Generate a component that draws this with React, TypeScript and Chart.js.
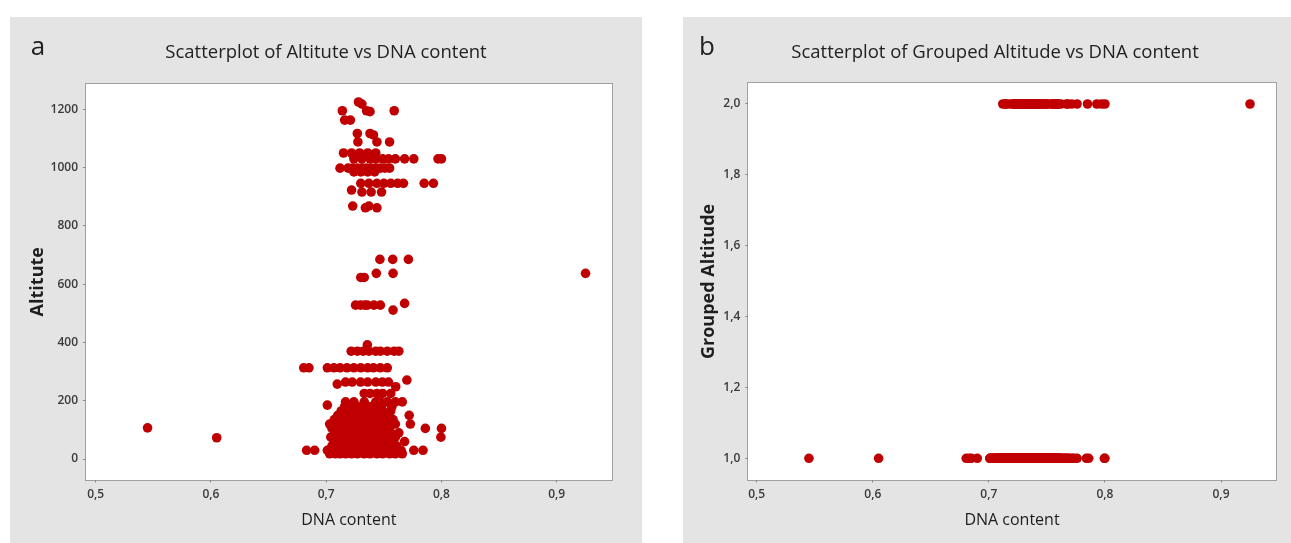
import React, { useEffect, useRef } from 'react';
import { Chart, registerables } from 'chart.js';

Chart.register(...registerables);

const FONT = "'Open Sans', 'Noto Sans', sans-serif";

// ---- Data: rows of [altitude, DNA content values measured at that altitude] ----
const highAltitudeRows: [number, number[]][] = [
  [1225, [0.728]],
  [1218, [0.731]],
  [1195, [0.714, 0.735, 0.759]],
  [1192, [0.738]],
  [1163, [0.716, 0.721]],
  [1117, [0.727, 0.738]],
  [1112, [0.741]],
  [1088, [0.7275, 0.744, 0.755]],
  [1050, [0.715, 0.722, 0.729, 0.736, 0.743]],
  [1030, [0.724, 0.731, 0.738, 0.743, 0.749, 0.754, 0.76, 0.768, 0.776, 0.797, 0.8]],
  [998, [0.712, 0.719, 0.723, 0.727, 0.731, 0.735, 0.739, 0.743, 0.747, 0.751, 0.755]],
  [985, [0.724, 0.73, 0.736, 0.742]],
  [946, [0.73, 0.737, 0.744, 0.75, 0.756, 0.762, 0.767, 0.785, 0.793]],
  [923, [0.722]],
  [916, [0.731, 0.739, 0.748]],
  [868, [0.723, 0.737]],
  [862, [0.734, 0.744]],
];

const midAltitudeRows: [number, number[]][] = [
  [685, [0.7466, 0.7577, 0.7713]],
  [637, [0.7435, 0.758, 0.925]],
  [623, [0.73, 0.733]],
  [534, [0.768]],
  [528, [0.7255, 0.7298, 0.7335, 0.7357, 0.7414, 0.747]],
  [511, [0.758]],
];

const lowAltitudeRows: [number, number[]][] = [
  [392, [0.7357]],
  [370, [0.7217, 0.727, 0.732, 0.737, 0.743, 0.747, 0.753, 0.759, 0.763]],
  [313, [0.6805, 0.685, 0.701, 0.7067, 0.712, 0.718, 0.724, 0.73, 0.736, 0.741, 0.747, 0.753]],
  [271, [0.77]],
  [264, [0.7168, 0.7226, 0.7298, 0.736, 0.743, 0.7487, 0.754]],
  [257, [0.7096]],
  [248, [0.7603]],
  [225, [0.733, 0.738, 0.744, 0.749, 0.756]],
  [196, [0.7168, 0.724, 0.733, 0.743, 0.747, 0.753, 0.76, 0.766]],
  [185, [0.701]],
  [180, [0.716, 0.722, 0.727, 0.733, 0.738, 0.743, 0.748, 0.757]],
  [165, [0.713, 0.719, 0.724, 0.729, 0.734, 0.739, 0.744, 0.749, 0.756]],
  [150, [0.71, 0.715, 0.72, 0.726, 0.731, 0.736, 0.741, 0.746, 0.752, 0.772]],
  [135, [0.707, 0.712, 0.717, 0.722, 0.727, 0.732, 0.737, 0.742, 0.747, 0.752, 0.758]],
  [120, [0.703, 0.709, 0.714, 0.719, 0.724, 0.729, 0.734, 0.739, 0.744, 0.749, 0.754, 0.76, 0.773]],
  [107, [0.545]],
  [105, [0.705, 0.71, 0.716, 0.721, 0.726, 0.731, 0.735, 0.74, 0.745, 0.75, 0.755, 0.786, 0.8]],
  [90, [0.708, 0.713, 0.718, 0.723, 0.727, 0.732, 0.736, 0.741, 0.746, 0.751, 0.756, 0.763]],
  [75, [0.704, 0.709, 0.714, 0.72, 0.725, 0.729, 0.734, 0.739, 0.744, 0.749, 0.754, 0.76, 0.7995]],
  [73, [0.605]],
  [60, [0.707, 0.712, 0.718, 0.723, 0.728, 0.733, 0.737, 0.742, 0.747, 0.752, 0.757, 0.768]],
  [45, [0.705, 0.71, 0.715, 0.721, 0.726, 0.73, 0.735, 0.74, 0.745, 0.75, 0.755, 0.761]],
  [30, [0.683, 0.69, 0.701, 0.706, 0.711, 0.716, 0.72, 0.725, 0.731, 0.736, 0.741, 0.746, 0.751, 0.757, 0.762, 0.765, 0.776, 0.784]],
  [18, [0.703, 0.708, 0.712, 0.717, 0.722, 0.727, 0.733, 0.738, 0.744, 0.749, 0.755, 0.76, 0.766]],
];

// Altitude at or above which a site is in group 2
const groupThreshold = 600;

const dnaTicks = [0.5, 0.6, 0.7, 0.8, 0.9];
const altitudeTicks = [0, 200, 400, 600, 800, 1000, 1200];
const groupedTicks = [1.0, 1.2, 1.4, 1.6, 1.8, 2.0];

const allRows = [...highAltitudeRows, ...midAltitudeRows, ...lowAltitudeRows];
const altitudePoints = allRows.flatMap(([alt, dnas]) => dnas.map((d) => ({ x: d, y: alt })));
const groupedPoints = altitudePoints.map((p) => ({ x: p.x, y: p.y >= groupThreshold ? 2 : 1 }));

const DOT = '#c00000';
const PANEL_BG = '#e4e4e4';

const fmtComma = (v: any) => Number(v).toFixed(1).replace('.', ',');

const decor = {
  id: 'decor',
  beforeDraw(chart: any) {
    const { ctx, chartArea: ca } = chart;
    ctx.save();
    ctx.fillStyle = PANEL_BG;
    ctx.fillRect(0, 0, chart.width, chart.height);
    const l = Math.round(ca.left), t = Math.round(ca.top), r = Math.round(ca.right), b = Math.round(ca.bottom);
    ctx.fillStyle = '#ffffff';
    ctx.fillRect(l, t, r - l, b - t);
    ctx.strokeStyle = '#a0a0a0';
    ctx.lineWidth = 1;
    ctx.strokeRect(l - 0.5, t - 0.5, r - l + 1, b - t + 1);
    ctx.restore();
  },
  afterDraw(chart: any, _a: any, opts: any) {
    const { ctx } = chart;
    ctx.save();
    ctx.font = `26px ${FONT}`;
    ctx.fillStyle = '#222222';
    ctx.textAlign = 'center';
    ctx.textBaseline = 'middle';
    ctx.fillText(opts.letter, opts.x, opts.y);
    ctx.restore();
  },
};

function buildConfig(p: {
  points: { x: number; y: number }[];
  title: string;
  yTitle: string;
  yTicks: number[];
  yFmt: (v: any) => string;
  xMin: number; xMax: number; yMin: number; yMax: number;
  yWidth: number; rightWidth: number; titlePadTop: number; titlePadBottom: number;
  yTitlePad: number; letter: string; letterX: number; letterY: number;
}): any {
  const tickFont = { family: FONT, size: 12, weight: '600' };
  return {
    type: 'scatter',
    data: {
      datasets: [
        {
          data: p.points,
          backgroundColor: DOT,
          borderColor: DOT,
          borderWidth: 0,
          pointRadius: 4.8,
          pointHoverRadius: 4.8,
        },
      ],
    },
    options: {
      animation: false,
      responsive: false,
      devicePixelRatio: 1,
      layout: { padding: 0 },
      plugins: {
        legend: { display: false },
        tooltip: { enabled: false },
        title: {
          display: true,
          text: p.title,
          color: '#222222',
          font: { family: FONT, size: 18.5, weight: 'normal' },
          padding: { top: p.titlePadTop, bottom: p.titlePadBottom },
        },
        decor: { letter: p.letter, x: p.letterX, y: p.letterY },
      },
      scales: {
        x: {
          type: 'linear',
          position: 'bottom',
          min: p.xMin,
          max: p.xMax,
          afterBuildTicks: (s: any) => { s.ticks = dnaTicks.map((v) => ({ value: v })); },
          afterFit: (s: any) => { s.height = 63.5; },
          grid: { display: true, drawOnChartArea: false, drawTicks: true, tickLength: 3, tickColor: '#8c8c8c' },
          border: { display: false },
          ticks: { padding: 5, color: '#3a3a3a', font: tickFont, maxRotation: 0, autoSkip: false, callback: fmtComma },
          title: { display: true, text: 'DNA content', color: '#1e1e1e', font: { family: FONT, size: 16 }, padding: { top: 0, bottom: 13.4 } },
        },
        y: {
          type: 'linear',
          position: 'left',
          min: p.yMin,
          max: p.yMax,
          afterBuildTicks: (s: any) => { s.ticks = p.yTicks.map((v) => ({ value: v })); },
          afterFit: (s: any) => { s.width = p.yWidth; },
          grid: { display: true, drawOnChartArea: false, drawTicks: true, tickLength: 3, tickColor: '#8c8c8c' },
          border: { display: false },
          ticks: { padding: 5, color: '#3a3a3a', font: tickFont, autoSkip: false, callback: p.yFmt },
          title: { display: true, text: p.yTitle, color: '#1e1e1e', font: { family: FONT, size: 18, weight: 'bold' }, padding: { top: p.yTitlePad, bottom: 0 } },
        },
        yRight: {
          type: 'linear',
          position: 'right',
          display: true,
          grid: { display: false },
          border: { display: false },
          ticks: { display: false },
          afterFit: (s: any) => { s.width = p.rightWidth; },
        },
      },
    },
    plugins: [decor],
  };
}

function Panel({ left, top, width, height, config }: { left: number; top: number; width: number; height: number; config: () => any }) {
  const ref = useRef<HTMLCanvasElement>(null);
  useEffect(() => {
    const chart = new Chart(ref.current as HTMLCanvasElement, config());
    return () => chart.destroy();
  }, []);
  return (
    <canvas
      ref={ref}
      width={width}
      height={height}
      style={{ position: 'absolute', left, top, width, height, display: 'block' }}
    />
  );
}

export default function App() {
  const configA = () =>
    buildConfig({
      points: altitudePoints,
      title: 'Scatterplot of Altitute vs DNA content',
      yTitle: 'Altitute',
      yTicks: altitudeTicks,
      yFmt: (v: any) => String(v),
      xMin: 0.4916, xMax: 0.9477, yMin: -70.3, yMax: 1286.8,
      yWidth: 76, rightWidth: 30.3, titlePadTop: 24.9, titlePadBottom: 19.9,
      yTitlePad: 17.2, letter: 'a', letterX: 28, letterY: 31,
    });
  const configB = () =>
    buildConfig({
      points: groupedPoints,
      title: 'Scatterplot of Grouped Altitude vs DNA content',
      yTitle: 'Grouped Altitude',
      yTicks: groupedTicks,
      yFmt: fmtComma,
      xMin: 0.49276, xMax: 0.94712, yMin: 0.9402, yMax: 2.0584,
      yWidth: 65.3, rightWidth: 31.3, titlePadTop: 24.9, titlePadBottom: 19.2,
      yTitlePad: 15.2, letter: 'b', letterX: 24, letterY: 31,
    });
  return (
    <div style={{ position: 'absolute', left: 0, top: 0, width: 1291, height: 543, overflow: 'hidden', background: '#ffffff' }}>
      <Panel left={10} top={17} width={632} height={526} config={configA} />
      <Panel left={683} top={17} width={624} height={526} config={configB} />
    </div>
  );
}
